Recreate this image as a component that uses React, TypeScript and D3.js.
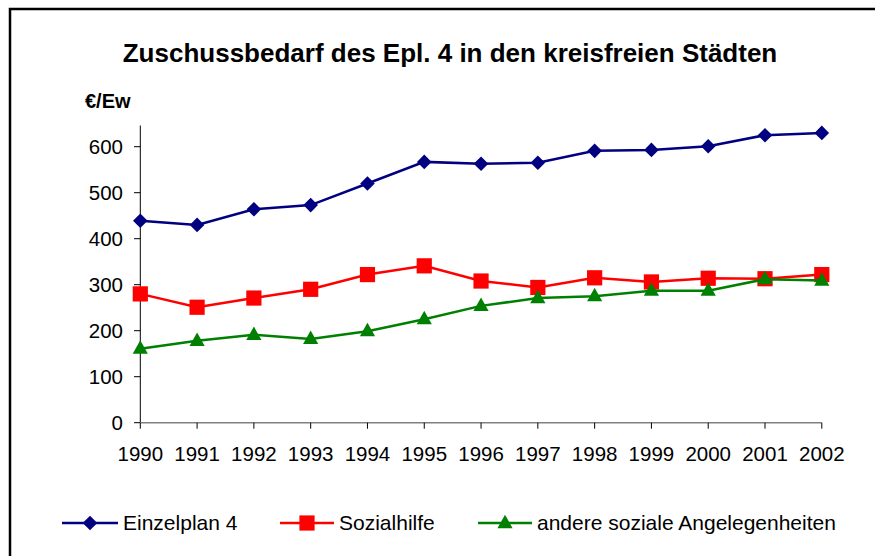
import React from "react";
import * as d3 from "d3";

const years = ["1990","1991","1992","1993","1994","1995","1996","1997","1998","1999","2000","2001","2002"];
const einzelplan = [439, 430, 464, 473, 520, 567, 563, 565, 591, 593, 601, 625, 630];
const sozialhilfe = [280, 251, 271, 290, 322, 341, 308, 294, 315, 306, 314, 313, 322];
const andere = [161, 178, 191, 182, 199, 225, 254, 271, 275, 287, 287, 312, 309];
const yTicks = [0, 100, 200, 300, 400, 500, 600];
const seriesNames = ["Einzelplan 4", "Sozialhilfe", "andere soziale Angelegenheiten"];
const title = "Zuschussbedarf des Epl. 4 in den kreisfreien Städten";
const unitLabel = "€/Ew";

const W = 875, H = 556;
const FONT = "'Liberation Sans', Arial, sans-serif";

export default function App() {
  const x = d3.scalePoint<string>().domain(years).range([140.3, 821.8]);
  const y = d3.scaleLinear().domain([0, 600]).range([422.7, 146.7]);
  const yTop = y(646);

  const series = [
    { name: seriesNames[0], values: einzelplan, color: "#000080", marker: "diamond" },
    { name: seriesNames[1], values: sozialhilfe, color: "#FF0000", marker: "square" },
    { name: seriesNames[2], values: andere, color: "#008000", marker: "triangle" },
  ];

  const line = d3.line<number>().x((_, i) => x(years[i])!).y((d) => y(d));

  const marker = (type: string, cx: number, cy: number, color: string, key: string) => {
    if (type === "diamond") {
      const s = 7.3;
      return <path key={key} d={`M${cx},${cy - s}L${cx + s},${cy}L${cx},${cy + s}L${cx - s},${cy}Z`} fill={color} />;
    }
    if (type === "square") {
      const s = 7.6;
      return <rect key={key} x={cx - s} y={cy - s} width={2 * s} height={2 * s} fill={color} />;
    }
    const w = 7.6, h = 13.5;
    return <path key={key} d={`M${cx},${cy - h * 0.62}L${cx + w},${cy + h * 0.38}L${cx - w},${cy + h * 0.38}Z`} fill={color} />;
  };

  const legendItems = [
    { x0: 62, x1: 118, tx: 123 },
    { x0: 280, x1: 334, tx: 339 },
    { x0: 478, x1: 532, tx: 537 },
  ];
  const legendY = 523;

  return (
    <svg width={W} height={H} style={{ position: "absolute", left: 0, top: 0, background: "#fff" }}>
      <rect x={10} y={9} width={900} height={600} fill="#fff" stroke="#000" strokeWidth={2.5} />
      <text x={450} y={62} textAnchor="middle" fontFamily={FONT} fontWeight="bold" fontSize={26} fill="#000">{title}</text>
      <text x={85} y={108} fontFamily={FONT} fontWeight="bold" fontSize={20} fill="#000">{unitLabel}</text>

      {/* y axis */}
      <line x1={140.3} x2={140.3} y1={yTop} y2={y(0)} stroke="#000" strokeWidth={1} />
      {yTicks.map((t) => (
        <g key={t}>
          <line x1={134} x2={140.3} y1={y(t)} y2={y(t)} stroke="#000" strokeWidth={1} />
          <text x={123} y={y(t)} dy="0.35em" textAnchor="end" fontFamily={FONT} fontSize={20.5} fill="#000">{t}</text>
        </g>
      ))}

      {/* x axis */}
      <line x1={140.3} x2={821.8} y1={y(0)} y2={y(0)} stroke="#808080" strokeWidth={1.5} />
      {years.map((yr) => (
        <g key={yr}>
          <line x1={x(yr)} x2={x(yr)} y1={y(0)} y2={y(0) + 6} stroke="#000" strokeWidth={1} />
          <text x={x(yr)} y={454} dy="0.35em" textAnchor="middle" fontFamily={FONT} fontSize={20.5} fill="#000">{yr}</text>
        </g>
      ))}

      {series.map((s) => (
        <g key={s.name}>
          <path d={line(s.values) || ""} fill="none" stroke={s.color} strokeWidth={2.5} />
          {s.values.map((v, i) => marker(s.marker, x(years[i])!, y(v), s.color, s.name + i))}
        </g>
      ))}

      {series.map((s, i) => {
        const li = legendItems[i];
        return (
          <g key={"lg" + s.name}>
            <line x1={li.x0} x2={li.x1} y1={legendY} y2={legendY} stroke={s.color} strokeWidth={2.5} />
            {marker(s.marker, (li.x0 + li.x1) / 2, legendY, s.color, "lgm" + i)}
            <text x={li.tx} y={legendY} dy="0.35em" fontFamily={FONT} fontSize={21} fill="#000">{s.name}</text>
          </g>
        );
      })}
    </svg>
  );
}
